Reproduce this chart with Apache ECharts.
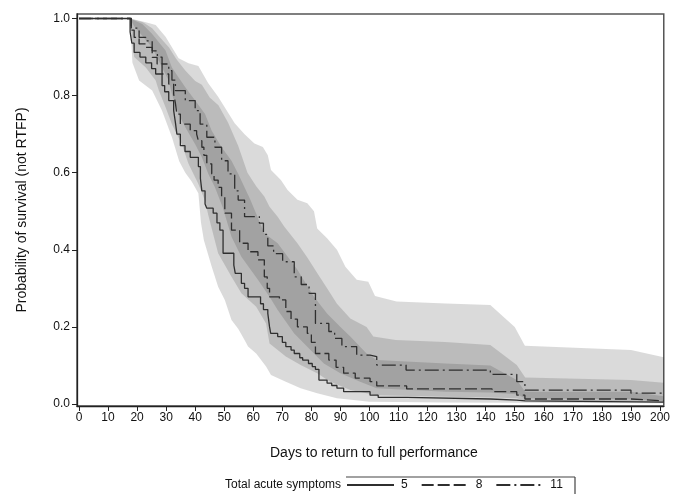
<!DOCTYPE html>
<html><head><meta charset="utf-8">
<script src="https://cdn.jsdelivr.net/npm/echarts@6/dist/echarts.min.js"></script>
<style>html,body{margin:0;padding:0;background:#fff}#c{width:673px;height:494px}</style>
</head><body><div id="c"></div>
<script>
const xTicks = [0,10,20,30,40,50,60,70,80,90,100,110,120,130,140,150,160,170,180,190,200];
const yTicks = [0,0.2,0.4,0.6,0.8,1.0];
const seriesNames = ['5','8','11'];

// Kaplan-Meier style step curves [day, survival]
const km5 = [[0,1],[17.6,0.965],[18.2,0.936],[19,0.912],[21,0.9],[23,0.885],[25,0.87],[26.4,0.856],[28.6,0.826],[29.5,0.81],[30.9,0.787],[32.6,0.761],[33.2,0.73],[33.7,0.70],[34.9,0.67],[36.5,0.655],[38.3,0.64],[41.1,0.616],[41.8,0.585],[42.3,0.553],[43.4,0.519],[44,0.508],[46.2,0.495],[47.5,0.47],[48.5,0.451],[49.6,0.391],[53.3,0.36],[53.8,0.339],[55.9,0.313],[57,0.3],[58.2,0.278],[62.5,0.26],[63.5,0.245],[65,0.235],[65.6,0.2],[66,0.183],[68.4,0.175],[70,0.16],[71.2,0.149],[73,0.14],[74.1,0.131],[76,0.12],[77,0.114],[79,0.105],[80.3,0.097],[81.4,0.09],[82.6,0.062],[85.4,0.054],[87,0.048],[88.8,0.041],[91.1,0.032],[100.2,0.023],[103,0.017],[113,0.013],[141.6,0.01],[150.7,0.008],[153.6,0.005],[201.3,0.005]];
const km8 = [[0,1],[18,0.97],[19,0.951],[20.7,0.934],[23,0.925],[25.2,0.899],[26.9,0.882],[28.6,0.856],[30.9,0.83],[32.6,0.804],[33.2,0.78],[33.7,0.752],[34.9,0.726],[38.3,0.709],[40.5,0.7],[41.1,0.683],[42.3,0.666],[43,0.645],[44,0.623],[45.7,0.597],[46.5,0.581],[47.9,0.562],[49.1,0.538],[50.2,0.495],[52.5,0.451],[55.3,0.417],[58.2,0.395],[61.6,0.374],[63.8,0.33],[64.8,0.3],[65.6,0.278],[69,0.27],[71.2,0.24],[73,0.22],[75.2,0.2],[78.6,0.183],[80,0.16],[81.4,0.131],[86,0.114],[88.5,0.095],[91.1,0.08],[95.1,0.067],[100.2,0.058],[102.5,0.047],[112.8,0.039],[142.2,0.032],[150.7,0.023],[153.5,0.013],[190,0.008],[201.3,0.008]];
const km11 = [[0,1],[18,0.975],[20.7,0.951],[23,0.942],[25.2,0.916],[27,0.9],[28.6,0.882],[30.9,0.865],[32,0.84],[33.2,0.813],[36.6,0.787],[40,0.761],[41.7,0.726],[44,0.692],[46.8,0.666],[49.1,0.631],[51.3,0.597],[53.6,0.553],[54.8,0.529],[57,0.486],[62.1,0.469],[63.5,0.44],[65,0.41],[67,0.39],[70.1,0.369],[74.1,0.33],[76.5,0.31],[79.2,0.287],[81.4,0.209],[86,0.188],[88,0.17],[90.5,0.149],[95.6,0.127],[100.2,0.123],[102.5,0.101],[112.6,0.088],[141.6,0.077],[150.7,0.058],[153.5,0.036],[190,0.028],[201.3,0.028]];

// Confidence band edges [day, survival]
const upper5 = [[17.6,1],[21.8,0.986],[25.2,0.96],[29.8,0.917],[32,0.873],[34.3,0.847],[36.6,0.822],[40,0.787],[43.4,0.752],[45.7,0.709],[49.1,0.666],[52.5,0.631],[54.8,0.597],[59,0.53],[63.8,0.443],[68.4,0.417],[75.2,0.348],[80.9,0.278],[85.4,0.235],[90,0.2],[93.4,0.175],[99,0.131],[102.5,0.114],[126.3,0.105],[141.6,0.1],[150.7,0.062],[153.6,0.032],[190,0.032],[201.3,0.02]];
const lower5 = [[17.6,1],[18.4,0.885],[20.7,0.839],[25.2,0.813],[28.6,0.761],[32,0.692],[34.5,0.63],[36.6,0.6],[38.8,0.577],[41.1,0.547],[42,0.47],[43,0.425],[45.7,0.356],[47.9,0.304],[50.2,0.27],[52.5,0.218],[54.8,0.195],[57,0.166],[58.2,0.149],[61,0.131],[64.4,0.097],[66.1,0.075],[71.2,0.058],[76.3,0.041],[82,0.028],[88.8,0.015],[100,0.006],[126,0.004],[201.3,0.002]];
const upper8 = [[17.6,1],[22,0.99],[25.2,0.975],[28,0.95],[31,0.925],[33.5,0.895],[36.6,0.865],[40,0.838],[42.3,0.828],[45,0.795],[48,0.775],[51.3,0.73],[54.8,0.67],[58,0.6],[61,0.565],[63.8,0.538],[65.6,0.512],[68.4,0.486],[70.7,0.46],[75.2,0.417],[78.6,0.38],[82,0.34],[85.4,0.3],[88.8,0.26],[93.4,0.222],[99,0.2],[101.3,0.175],[109,0.166],[126,0.161],[141.6,0.153],[150.7,0.101],[153.6,0.069],[190,0.062],[201.3,0.055]];
const lower8 = [[17.6,1],[18.5,0.93],[19,0.9],[23,0.873],[26.4,0.839],[27.5,0.813],[29.8,0.77],[32,0.726],[35.4,0.674],[37.7,0.623],[41.1,0.571],[43.4,0.527],[44.5,0.49],[47.9,0.391],[52.5,0.33],[55.9,0.287],[61,0.252],[64.4,0.209],[65.6,0.157],[71.2,0.123],[76.3,0.101],[82,0.08],[86.5,0.058],[93.4,0.036],[102.5,0.023],[126,0.019],[141.6,0.017],[150.7,0.015],[153.6,0.008],[190,0.006],[201.3,0.004]];
const upper11 = [[17.6,1],[23,0.99],[26.4,0.983],[29.8,0.953],[34.3,0.897],[37.7,0.884],[41.1,0.877],[44.5,0.832],[47.9,0.797],[53.6,0.728],[57,0.7],[60.4,0.676],[63.3,0.667],[65,0.645],[66.1,0.607],[69.5,0.581],[71.8,0.555],[75.2,0.53],[78.6,0.521],[80.9,0.5],[82,0.455],[85.4,0.43],[88.8,0.4],[91.7,0.356],[95.6,0.322],[99.6,0.317],[101.9,0.28],[109.3,0.266],[126.3,0.261],[141.6,0.257],[150,0.2],[153.5,0.151],[190,0.14],[201.3,0.121]];
const lower11 = [[17.6,1],[19,0.98],[25.2,0.925],[28.6,0.873],[30.9,0.839],[32,0.804],[34.3,0.752],[36.6,0.718],[40,0.674],[42.3,0.64],[44.5,0.597],[46.8,0.562],[49.5,0.51],[52.5,0.434],[55.9,0.382],[61.6,0.322],[65.6,0.278],[68.4,0.244],[74.1,0.183],[79.7,0.14],[84.3,0.105],[90,0.08],[96.8,0.058],[102.5,0.041],[126.3,0.032],[141.6,0.03],[150.7,0.025],[153.6,0.015],[190,0.012],[201.3,0.008]];

const FONT = 'Liberation Sans, Arial, sans-serif';
const bandFill = 'rgba(50,50,50,0.18)';
const lineColor = '#2f2f2f';

function band(name, upper, lower) {
  return {
    type: 'custom', name: name, coordinateSystem: 'cartesian2d', silent: true, z: 1,
    data: [upper[0]],
    encode: {x: 0, y: 1},
    renderItem: function (params, api) {
      const pts = upper.map(p => api.coord(p)).concat(lower.slice().reverse().map(p => api.coord(p)));
      return {type: 'polygon', shape: {points: pts}, style: {fill: bandFill, stroke: null}};
    }
  };
}
function curve(name, data, dash) {
  return {
    type: 'line', name: name, data: data, step: 'end', symbol: 'none', z: 5, silent: true,
    lineStyle: {color: lineColor, width: 1.3, type: dash},
    itemStyle: {color: lineColor}
  };
}

const chart = echarts.init(document.getElementById('c'));
chart.setOption({
  animation: false,
  backgroundColor: '#fff',
  grid: {left: 77, right: 3, top: 14, bottom: 88, show: true, borderColor: '#555', borderWidth: 1.5},
  xAxis: {
    type: 'value', min: -0.68, max: 201.3,
    axisLine: {onZero: false, lineStyle: {color: '#222', width: 1.3}},
    axisTick: {customValues: xTicks, length: 5, lineStyle: {color: '#222'}},
    axisLabel: {customValues: xTicks, color: '#111', fontSize: 12, fontFamily: FONT, margin: 6},
    splitLine: {show: false},
    name: 'Days to return to full performance', nameLocation: 'middle', nameGap: 40,
    nameTextStyle: {color: '#111', fontSize: 14, fontFamily: FONT, padding: [0, 0, 0, 7]}
  },
  yAxis: {
    type: 'value', min: -0.0052, max: 1.0117,
    axisLine: {show: true, onZero: false, lineStyle: {color: '#222', width: 1.3}},
    axisTick: {show: true, customValues: yTicks, length: 5, lineStyle: {color: '#222'}},
    axisLabel: {customValues: yTicks, color: '#111', fontSize: 12, fontFamily: FONT, margin: 7,
      formatter: v => v.toFixed(1)},
    splitLine: {show: false},
    name: 'Probability of survival (not RTFP)', nameLocation: 'middle', nameGap: 48,
    nameTextStyle: {color: '#111', fontSize: 14, fontFamily: FONT}
  },
  legend: {
    data: seriesNames, left: 346, top: 479, padding: 0, itemGap: 13, itemWidth: 47, itemHeight: 14,
    itemStyle: {opacity: 0, borderWidth: 0},
    textStyle: {color: '#111', fontSize: 12, fontFamily: FONT, padding: [0, 0, 0, 2]},
    selectedMode: false
  },
  graphic: [
    {type: 'text', left: 225, top: 479, style: {text: 'Total acute symptoms', fill: '#111', font: '12px ' + FONT}},
    {type: 'line', shape: {x1: 346, y1: 477, x2: 575, y2: 477}, style: {stroke: '#444', lineWidth: 1.2}},
    {type: 'line', shape: {x1: 575, y1: 477, x2: 575, y2: 494}, style: {stroke: '#444', lineWidth: 1.2}}
  ],
  series: [
    band('CI 5', upper5, lower5),
    band('CI 8', upper8, lower8),
    band('CI 11', upper11, lower11),
    curve(seriesNames[0], km5, 'solid'),
    curve(seriesNames[1], km8, [12, 4]),
    curve(seriesNames[2], km11, [14, 4, 2, 4])
  ]
});
</script></body></html>
